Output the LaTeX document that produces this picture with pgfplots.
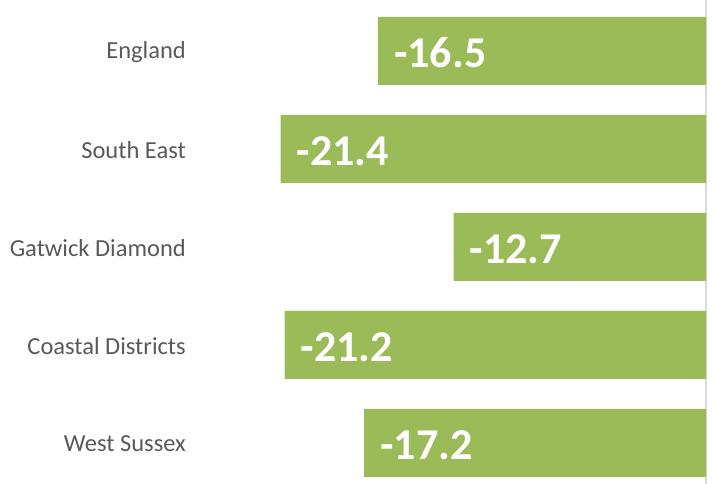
\documentclass[border=0pt]{standalone}
\usepackage{pgfplots}
\pgfplotsset{compat=1.18}
\usepackage{fontspec}
\setmainfont{Carlito}
\definecolor{barGreen}{HTML}{9BBB59}
\definecolor{labelGray}{HTML}{595959}
\definecolor{lineGray}{HTML}{D9D9D9}
\begin{document}
\begin{tikzpicture}
\begin{axis}[
  name=ax,
  xbar,
  scale only axis,
  width=497bp, height=484bp,
  xmin=-25, xmax=0,
  ymin=-0.52, ymax=4.42,
  y dir=reverse,
  clip=false,
  axis line style={draw=none},
  xtick=\empty,
  ytick={0,1,2,3,4},
  yticklabels={England, South East, Gatwick Diamond, Coastal Districts, West Sussex},
  major tick length=0pt,
  yticklabel style={font=\fontsize{24.5bp}{28bp}\selectfont, text=labelGray, inner sep=0pt, xshift=-23bp, yshift=-1bp},
  extra x ticks={0},
  extra x tick labels={},
  extra x tick style={grid=major, major grid style={draw=lineGray, line width=1.2bp}},
  bar width=68bp,
  point meta=explicit symbolic,
  nodes near coords,
  nodes near coords style={anchor=west, inner sep=0pt, xshift=16bp, yshift=-2bp, text=white,
    font=\bfseries\fontsize{44bp}{48bp}\selectfont},
]
\addplot[fill=barGreen, draw=none] coordinates {
  (-16.5,0) [-16.5]
  (-21.4,1) [-21.4]
  (-12.7,2) [-12.7]
  (-21.2,3) [-21.2]
  (-17.2,4) [-17.2]
};
\end{axis}
\pgfresetboundingbox
\path[use as bounding box] ([xshift=-209bp]ax.south west) rectangle ([xshift=6bp]ax.north east);
\end{tikzpicture}
\end{document}
